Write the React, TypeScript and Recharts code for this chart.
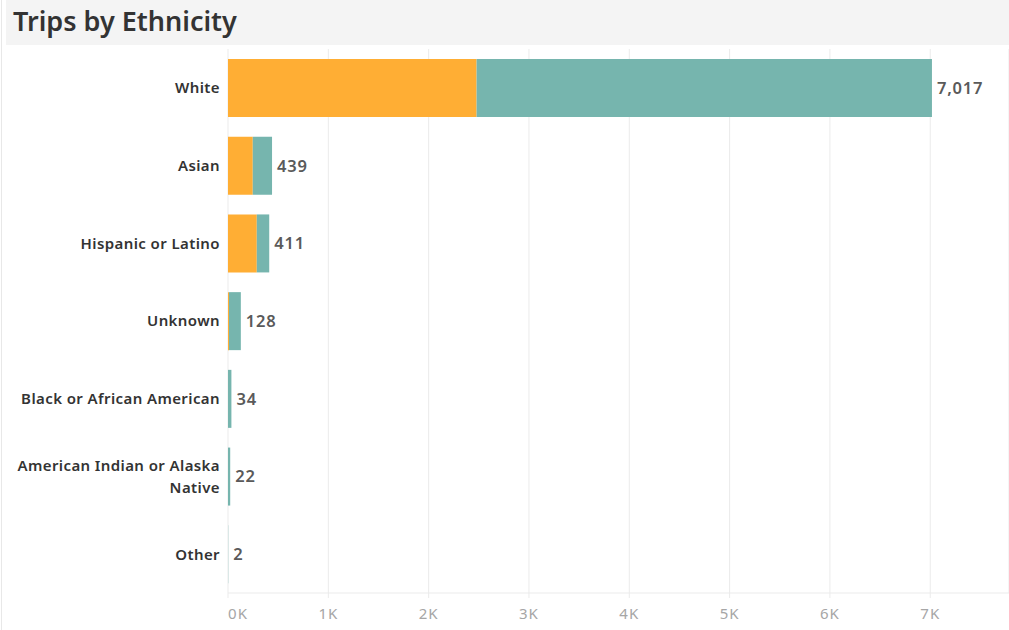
import React from "react";
import {
  BarChart,
  Bar,
  XAxis,
  YAxis,
  CartesianGrid,
  LabelList,
} from "recharts";

// values
const categories = [
  "White",
  "Asian",
  "Hispanic or Latino",
  "Unknown",
  "Black or African American",
  "American Indian or Alaska Native",
  "Other",
];
const orangeValues = [2478, 247, 287, 10, 0, 0, 0];
const tealValues = [4539, 192, 124, 118, 34, 22, 2];
const totals = [7017, 439, 411, 128, 34, 22, 2];
const xTicks = [0, 1000, 2000, 3000, 4000, 5000, 6000, 7000];

const data = categories.map((name, i) => ({
  name,
  orange: orangeValues[i],
  teal: tealValues[i],
  total: totals[i],
}));

const FONT = "'Noto Sans', 'Open Sans', sans-serif";

// splits long labels into two lines like Tableau does
const wrapLabel = (s: string): string[] => {
  if (s.length <= 26) return [s];
  const idx = s.lastIndexOf(" ");
  return [s.slice(0, idx), s.slice(idx + 1)];
};

const CategoryTick = (props: any) => {
  const { x, y, payload } = props;
  const lines = wrapLabel(payload.value);
  const start = -((lines.length - 1) * 22) / 2;
  return (
    <text
      x={x}
      y={y}
      textAnchor="end"
      fontFamily={FONT}
      fontSize={15}
      fontWeight={600}
      letterSpacing={0.4}
      fill="#333333"
    >
      {lines.map((l, i) => (
        <tspan key={i} x={x} y={y + start + i * 22} dy="0.36em">
          {l}
        </tspan>
      ))}
    </text>
  );
};

const ValueTick = (props: any) => {
  const { x, y, payload } = props;
  const shift = payload.value === 0 ? 10 : 0;
  return (
    <text
      x={x + shift}
      y={y + 8}
      dy="0.71em"
      textAnchor="middle"
      fontFamily={FONT}
      fontSize={15}
      letterSpacing={1}
      fill="#a6a6a6"
    >
      {`${payload.value / 1000}K`}
    </text>
  );
};

const App = () => {
  return (
    <div
      style={{
        position: "absolute",
        left: 0,
        top: 0,
        width: 1009,
        height: 630,
        background: "#ffffff",
        overflow: "hidden",
      }}
    >
      {/* faint left border */}
      <div
        style={{
          position: "absolute",
          left: 1,
          top: 0,
          width: 1,
          height: 630,
          background: "#e8e8e8",
        }}
      />
      <div
        style={{
          position: "absolute",
          left: 6,
          top: 0,
          width: 1003,
          height: 45,
          background: "#f4f4f4",
        }}
      >
        <div
          style={{
            position: "absolute",
            left: 7,
            top: 2,
            fontFamily: FONT,
            fontSize: 27,
            fontWeight: 600,
            color: "#333333",
          }}
        >
          Trips by Ethnicity
        </div>
      </div>
      <div style={{ position: "absolute", left: 0, top: 0 }}>
        <BarChart
          width={1009}
          height={630}
          data={data}
          layout="vertical"
          margin={{ top: 49, right: 0, bottom: 0, left: 0 }}
          barSize={58}
        >
          <CartesianGrid
            horizontal={false}
            vertical={true}
            stroke="#ebebeb"
          />
          <XAxis
            type="number"
            domain={[0, 7785]}
            ticks={xTicks}
            allowDataOverflow
            axisLine={{ stroke: "#ebebeb" }}
            tickLine={{ stroke: "#ebebeb" }}
            tickSize={5}
            tick={<ValueTick />}
            height={37}
          />
          <YAxis
            type="category"
            dataKey="name"
            width={228}
            axisLine={false}
            tickLine={false}
            tickMargin={2}
            tick={<CategoryTick />}
            interval={0}
          />
          <Bar
            dataKey="orange"
            stackId="a"
            fill="#ffae34"
            isAnimationActive={false}
          />
          <Bar
            dataKey="teal"
            stackId="a"
            fill="#76b5ae"
            isAnimationActive={false}
          >
            <LabelList
              dataKey="total"
              position="right"
              offset={5}
              formatter={(v: any) => Number(v).toLocaleString("en-US")}
              style={{
                fontFamily: FONT,
                fontSize: 16.5,
                fontWeight: 600,
                letterSpacing: 0.8,
                fill: "#5a5a5a",
              }}
            />
          </Bar>
        </BarChart>
      </div>
    </div>
  );
};

export default App;
